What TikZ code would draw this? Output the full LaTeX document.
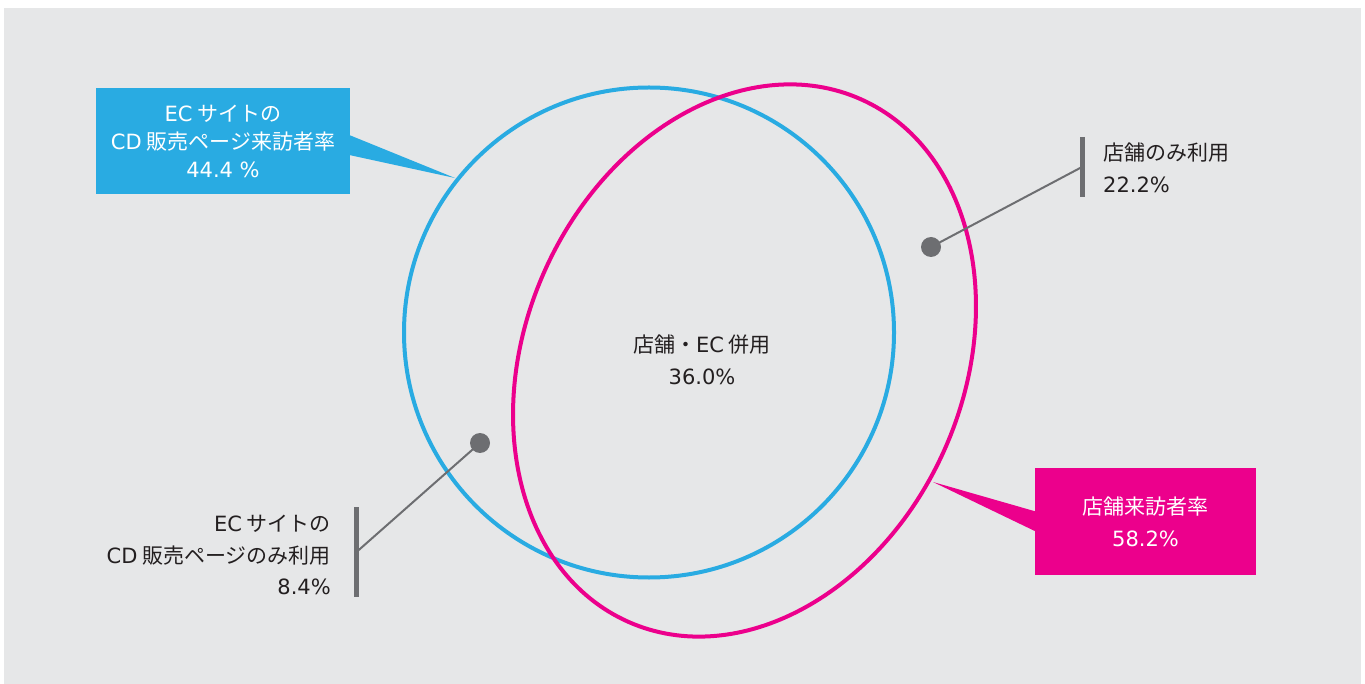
\documentclass[tikz,border=0pt]{standalone}
\usepackage{fontspec}
\setmainfont{Noto Sans CJK JP}
\newfontfamily\latinfont{DejaVu Sans}
\newcommand\lt[1]{{\latinfont #1}}
\usepackage{tikz}
\usetikzlibrary{calc}
\definecolor{ecblue}{HTML}{29ABE2}
\definecolor{shoppink}{HTML}{EC008C}
\definecolor{bggray}{HTML}{E6E7E8}
\definecolor{leadgray}{HTML}{6D6E71}
\definecolor{txtgray}{HTML}{231F20}
\tikzset{
    ring/.style={line width=4pt},
    callbox/.style={inner sep=0pt,text=white,align=center,font=\fontsize{21}{28}\selectfont},
    lbl/.style={inner sep=0pt,text=txtgray,font=\fontsize{21}{31.5}\selectfont},
    dot/.style={circle,fill=leadgray,inner sep=0pt,minimum size=20pt},
    lead/.style={leadgray,line width=2pt},
    bar/.style={leadgray,line width=5pt}
}

\begin{document}
\begin{tikzpicture}[x=1pt,y=-1pt]
                \useasboundingbox (0,0) rectangle (1365,684);
                \fill[bggray] (4,8) rectangle (1361,684);

                \coordinate (ec) at (649,332.5);
                \coordinate (shop) at (744.5,360.5);
                \draw[ring,ecblue] (ec) circle (245);
                \draw[ring,shoppink,rotate around={-24:(shop)}] (shop) ellipse [x radius=219, y radius=286];

                \node[lbl,align=center] (both) at (702,360) {店舗・\lt{EC} 併用\\\lt{36.0\%}};

                % callout boxes
                \node[callbox,fill=ecblue,minimum width=254pt,minimum height=106pt] (ecbox) at (223,141)
                    {\lt{EC} サイトの\\\lt{CD} 販売ページ来訪者率\\\lt{44.4 \%}};
                \coordinate (ectip) at (455,178);
                \fill[ecblue] ($(ecbox.east)+(-1,-6)$)--(ectip)--($(ecbox.east)+(-1,14)$)--cycle;

                \node[callbox,fill=shoppink,minimum width=221pt,minimum height=107pt,font=\fontsize{21}{32}\selectfont] (shopbox) at (1145.5,521.5)
                    {店舗来訪者率\\\lt{58.2\%}};
                \coordinate (shoptip) at (933,482);
                \fill[shoppink] ($(shopbox.west)+(1,-10)$)--(shoptip)--($(shopbox.west)+(1,10)$)--cycle;

                % leaders
                \node[dot] (shopdot) at (931,247) {};
                \coordinate (rbar1) at (1082,137);
                \coordinate (rbar2) at (1082,197);
                \draw[bar] (rbar1)--(rbar2);
                \draw[lead] (shopdot.center)--($(rbar1)!0.5!(rbar2)$);
                \node[lbl,anchor=west,align=left] (shoponly) at (1103,168) {店舗のみ利用\\\lt{22.2\%}};

                \node[dot] (ecdot) at (480,443) {};
                \coordinate (lbar1) at (356.5,507);
                \coordinate (lbar2) at (356.5,597);
                \draw[bar] (lbar1)--(lbar2);
                \draw[lead] (ecdot.center)--($(lbar1)!0.5!(lbar2)$);
                \node[lbl,anchor=east,align=right] (econly) at (331,555) {\lt{EC} サイトの\\\lt{CD} 販売ページのみ利用\\\lt{8.4\%}};
\end{tikzpicture}
\end{document}
